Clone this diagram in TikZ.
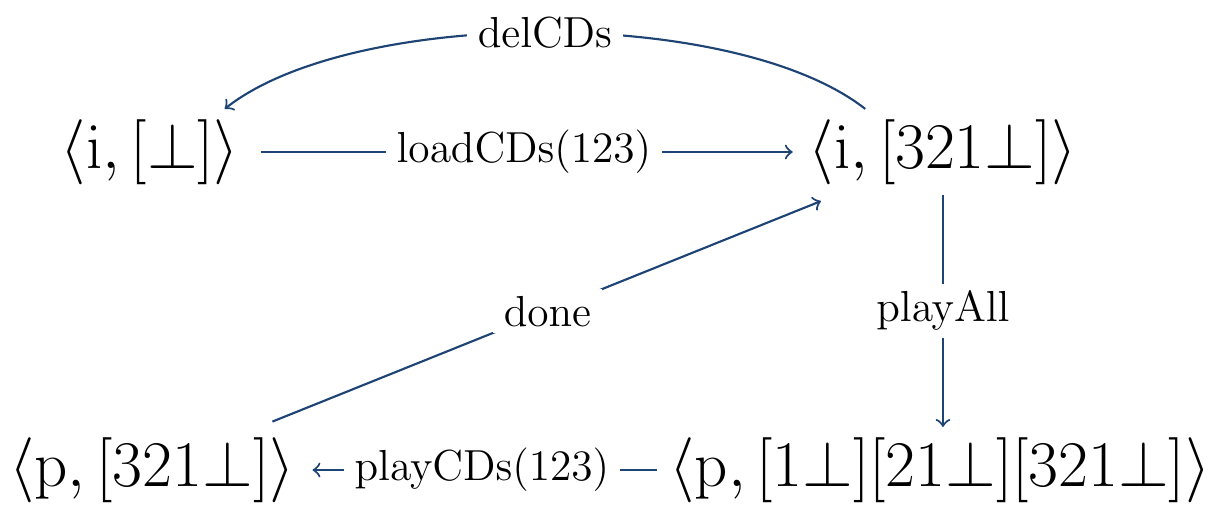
\documentclass[tikz,border=0pt]{standalone}
\usetikzlibrary{arrows}
\definecolor{edgeblue}{RGB}{30,68,118}
\begin{document}
\begin{tikzpicture}[x=0.281pt,y=-0.281pt,
  state/.style={inner xsep=5.7pt,inner ysep=2.8pt,outer sep=0pt,scale=1.059,font=\fontsize{17.28}{21}\selectfont},
  edge/.style={draw=edgeblue,line width=0.6pt,->},
  lbl/.style={fill=white,inner xsep=3pt,inner ysep=2pt,scale=1.017,font=\fontsize{12}{14}\selectfont,text=black}]
\useasboundingbox (0,0) rectangle (1216,507);
\node[state] (A) at (150,152) {$\langle\mathrm{i},[\bot]\rangle$};
\node[state] (B) at (943,152) {$\langle\mathrm{i},[321\bot]\rangle$};
\node[state] (C) at (152,470) {$\langle\mathrm{p},[321\bot]\rangle$};
\node[state] (D) at (940,470) {$\langle\mathrm{p},[1\bot][21\bot][321\bot]\rangle$};
\draw[edge,shorten >=-1.5pt] (A) -- node[lbl]{$\mathrm{loadCDs}(123)$} (B);
\draw[edge] (B.151) .. controls +(-130,-102) and +(130,-102) .. node[lbl,pos=0.5]{$\mathrm{delCDs}$} (A.30);
\draw[edge] (B.south) -- node[lbl]{$\mathrm{playAll}$} (B.south |- D.north);
\draw[edge,shorten <=-2.5pt,shorten >=-1pt] (D) -- node[lbl]{$\mathrm{playCDs}(123)$} (C);
\draw[edge,shorten <=4pt,shorten >=4.5pt] (C) -- node[lbl]{$\mathrm{done}$} (B);
\end{tikzpicture}
\end{document}
